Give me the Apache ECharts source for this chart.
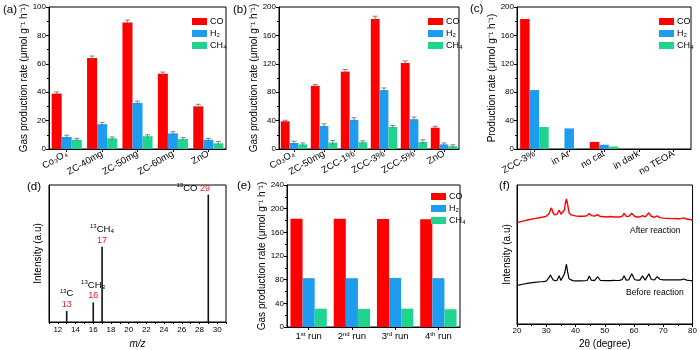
<!DOCTYPE html>
<html>
<head>
<meta charset="utf-8">
<script src="https://cdn.jsdelivr.net/npm/echarts@6/dist/echarts.min.js"></script>
<style>
html, body { margin: 0; padding: 0; background: #fff; }
#main { width: 700px; height: 350px; }
</style>
</head>
<body>
<div id="main"></div>
<script>
// ---- data ----
var gasNames = ['CO', 'H₂', 'CH₄'];
var gasColors = ['#ff0000', '#1e9cf0', '#1fd48c'];

// (a)
var catsA = ['Co₃O₄', 'ZC-40mg', 'ZC-50mg', 'ZC-60mg', 'ZnO'];
var coA = [39, 64, 89, 53, 30];
var h2A = [8.5, 17.5, 32.5, 11, 6.5];
var ch4A = [6.5, 7.5, 9, 7, 4];
var errCoA = [1.2, 1.5, 1.8, 1.2, 1.5];
var errH2A = [1.2, 1.2, 1.2, 1.2, 1.0];
var errCh4A = [1.0, 1.0, 1.0, 1.0, 1.2];

// (b)
var catsB = ['Co₃O₄', 'ZC-50mg', 'ZCC-1%', 'ZCC-3%', 'ZCC-5%', 'ZnO'];
var coB = [39, 89, 109, 183, 121, 30];
var h2B = [8.5, 32.5, 41, 83, 42, 6.5];
var ch4B = [6.5, 9, 9.5, 31, 10, 4];
var errCoB = [1.5, 2, 3, 4, 3, 2];
var errH2B = [2.5, 3, 3, 3, 3, 2];
var errCh4B = [2, 3, 2, 2, 3, 2];

// (c)
var catsC = ['ZCC-3%', 'in Ar', 'no cat', 'in dark', 'no TEOA'];
var coC = [183, 0, 10, 0, 0];
var h2C = [83, 29, 6, 0, 0];
var ch4C = [31, 0, 3.5, 0, 0];

// (d)
var massZ = [13, 16, 17, 29];
var massI = [8, 14.3, 55, 93];
var massIon = ['C', 'CH₃', 'CH₄', 'CO'];

// (e)
var catsE = ['1{sup|st} run', '2{sup|nd} run', '3{sup|rd} run', '4{sup|th} run'];
var coE = [183, 183, 182.5, 182];
var h2E = [82.5, 82.5, 83, 82.5];
var ch4E = [31, 30.5, 31, 30];

// (f)
var xrdAngle = [20, 22, 24, 26, 28, 29, 30, 30.5, 31, 31.4, 31.8, 32.3, 33, 33.7, 34.4, 35, 35.6,
  36.2, 36.5, 36.9, 37.3, 37.8, 38.4, 39, 40, 41, 42, 43, 44, 44.7, 45.4, 46.5, 47.6, 48.5,
  50, 51, 52, 53, 54, 55, 56, 56.6, 57.3, 58.2, 59.2, 60.2, 61, 62, 62.9, 63.8, 64.4, 65.1,
  65.9, 67, 67.9, 68.8, 70, 71, 72, 73, 74, 75, 76, 77, 78, 79, 80];
var xrdAfter = [72.9, 74.0, 75.0, 75.8, 76.6, 77.0, 77.5, 78.0, 79.5, 82.0, 83.5, 80.0, 78.5, 79.0, 82.0, 79.0, 79.0,
  82.0, 86.5, 90.0, 86.0, 80.0, 78.5, 78.0, 77.8, 77.5, 77.6, 77.5, 78.0, 79.6, 78.0, 77.6, 78.6, 77.3,
  77.2, 77.0, 77.3, 77.0, 77.1, 77.0, 77.6, 79.6, 77.5, 77.4, 79.6, 77.5, 77.0, 77.0, 78.0, 77.0, 78.0, 80.0,
  77.5, 76.8, 77.8, 76.5, 76.2, 76.0, 76.0, 75.8, 75.9, 75.7, 75.8, 76.4, 75.5, 75.2, 74.8];
var xrdBefore = [27.8, 28.6, 29.4, 30.0, 30.4, 30.5, 30.8, 31.2, 33.5, 35.3, 35.0, 31.8, 31.2, 31.4, 34.8, 31.3, 31.4,
  36.0, 39.0, 43.0, 37.5, 32.5, 31.6, 31.2, 31.0, 31.1, 31.0, 31.1, 31.3, 34.6, 31.5, 31.2, 34.0, 31.3,
  31.2, 31.3, 31.2, 31.4, 31.3, 31.4, 32.0, 34.8, 31.6, 31.8, 36.2, 32.0, 31.5, 31.6, 34.6, 31.6, 32.0, 36.2,
  32.0, 31.8, 34.1, 32.2, 31.8, 31.7, 31.8, 31.7, 31.8, 31.7, 31.8, 32.4, 31.6, 31.3, 31.0];

// ---- layout ----
var FONT = 'Liberation Sans, Arial, sans-serif';
var grids = [
  { left: 49, top: 7, width: 177, height: 142 },   // a
  { left: 279, top: 7, width: 180, height: 142 },  // b
  { left: 517, top: 7, width: 174, height: 142 },  // c
  { left: 49, top: 185, width: 177, height: 142 }, // d
  { left: 287, top: 185, width: 173, height: 142 },// e
  { left: 517, top: 185, width: 178, height: 142 } // f
];
var gaps = [0.15, 0.12, 0.18, 0, 0.16, 0];
var rateName = 'Gas production rate (μmol g⁻¹ h⁻¹)';

var xAxes = [], yAxes = [], series = [], legends = [];

grids.forEach(function (g) {
  g.show = true;
  g.borderColor = '#000';
  g.borderWidth = 1;
  g.backgroundColor = 'transparent';
});

function valueY(idx, max, interval, name, gap) {
  return {
    gridIndex: idx, type: 'value', min: 0, max: max, interval: interval,
    name: name, nameLocation: 'middle', nameGap: gap,
    nameTextStyle: { fontSize: 10, fontFamily: FONT, color: '#000' },
    axisLine: { show: true, lineStyle: { color: '#000', width: 1 } },
    axisTick: { show: true, length: 3, lineStyle: { color: '#000' } },
    minorTick: { show: true, splitNumber: 2, length: 2, lineStyle: { color: '#000' } },
    axisLabel: { fontSize: 8, fontFamily: FONT, color: '#000', margin: 3 },
    splitLine: { show: false }
  };
}

function catX(idx, cats, rotate, rich) {
  return {
    gridIndex: idx, type: 'category', data: cats,
    axisLine: { show: true, lineStyle: { color: '#000', width: 1 } },
    axisTick: { show: true, alignWithLabel: true, length: 3, lineStyle: { color: '#000' } },
    axisLabel: { fontSize: 9.5, fontFamily: FONT, color: '#000', rotate: rotate, margin: 4, interval: 0, rich: rich || {} },
    splitLine: { show: false }
  };
}

function errorSeries(idx, vals, errs, k, gap) {
  var data = vals.map(function (v, i) { return [i, v, errs[i], k]; });
  return {
    type: 'custom', xAxisIndex: idx, yAxisIndex: idx, z: 5, silent: true,
    data: data,
    encode: { x: 0, y: 1 },
    renderItem: function (params, api) {
      var c = api.coord([api.value(0), api.value(1)]);
      var band = api.size([1, 0])[0];
      var bw = band * (1 - gap) / 3;
      var cx = c[0] + (api.value(3) - 1) * bw;
      var top = api.coord([api.value(0), api.value(1) + api.value(2)])[1];
      var bot = api.coord([api.value(0), api.value(1) - api.value(2)])[1];
      var st = { stroke: '#666', lineWidth: 0.8 };
      return {
        type: 'group',
        children: [
          { type: 'line', shape: { x1: cx, y1: bot, x2: cx, y2: top }, style: st },
          { type: 'line', shape: { x1: cx - 2.5, y1: top, x2: cx + 2.5, y2: top }, style: st }
        ]
      };
    }
  };
}

function barPanel(idx, cats, sets, errs, max, interval, rotate, yName, nameGap, rich) {
  xAxes.push(catX(idx, cats, rotate, rich));
  yAxes.push(valueY(idx, max, interval, yName, nameGap));
  sets.forEach(function (vals, k) {
    series.push({
      name: gasNames[k], type: 'bar', xAxisIndex: idx, yAxisIndex: idx,
      data: vals, itemStyle: { color: gasColors[k] },
      barGap: '0%', barCategoryGap: (gaps[idx] * 100) + '%'
    });
  });
  if (errs) {
    errs.forEach(function (e, k) {
      series.push(errorSeries(idx, sets[k], e, k, gaps[idx]));
    });
  }
}

function legendAt(left, top) {
  legends.push({
    data: gasNames, orient: 'vertical', left: left, top: top,
    icon: 'rect', itemWidth: 15, itemHeight: 7, itemGap: 3,
    selectedMode: false,
    textStyle: { fontSize: 9, fontFamily: FONT, color: '#000', padding: [0, 0, 0, -2] }
  });
}

// (a)
barPanel(0, catsA, [coA, h2A, ch4A], [errCoA, errH2A, errCh4A], 100, 20, 30, rateName, 17);
legendAt(187, 12);
// (b)
barPanel(1, catsB, [coB, h2B, ch4B], [errCoB, errH2B, errCh4B], 200, 40, 30, rateName, 18);
legendAt(423, 12);
// (c)
barPanel(2, catsC, [coC, h2C, ch4C], null, 200, 40, 30, 'Production rate (μmol g⁻¹ h⁻¹)', 19);
legendAt(654, 12);

// (d)
xAxes.push({
  gridIndex: 3, type: 'value', min: 11, max: 31, interval: 1,
  name: 'm/z', nameLocation: 'middle', nameGap: 17,
  nameTextStyle: { fontSize: 10, fontStyle: 'italic', fontFamily: FONT, color: '#000' },
  axisLine: { show: true, lineStyle: { color: '#000' } },
  axisTick: { show: true, length: 2, lineStyle: { color: '#000' } },
  axisLabel: {
    fontSize: 8, fontFamily: FONT, color: '#000', margin: 4,
    formatter: function (v) { return v % 2 === 0 ? String(v) : ''; }
  },
  splitLine: { show: false }
});
yAxes.push({
  gridIndex: 3, type: 'value', min: 0, max: 100,
  name: 'Intensity (a.u)', nameLocation: 'middle', nameGap: 6,
  nameTextStyle: { fontSize: 10, fontFamily: FONT, color: '#000' },
  axisLine: { show: true, lineStyle: { color: '#000' } },
  axisTick: { show: false }, axisLabel: { show: false }, splitLine: { show: false }
});
var massRich = {
  sup: { fontSize: 6, verticalAlign: 'top', fontFamily: FONT, color: '#000', lineHeight: 11 },
  ion: { fontSize: 9.5, fontFamily: FONT, color: '#000', lineHeight: 11 },
  red: { fontSize: 9, fontFamily: FONT, color: '#e8202a', lineHeight: 11 }
};
series.push({
  type: 'bar', xAxisIndex: 3, yAxisIndex: 3, barWidth: 1.6,
  itemStyle: { color: '#111' },
  data: massZ.map(function (z, i) {
    var item = { value: [z, massI[i]] };
    if (z === 29) {
      item.label = {
        show: true, position: 'top', distance: 1, offset: [-15, 0], rich: massRich,
        formatter: '{sup|13}{ion|' + massIon[i] + ' }{red|' + z + '}'
      };
    } else {
      item.label = {
        show: true, position: 'top', distance: 1, rich: massRich,
        formatter: '{sup|13}{ion|' + massIon[i] + '}\n{red|' + z + '}'
      };
    }
    return item;
  })
});

// (e)
barPanel(4, catsE, [coE, h2E, ch4E], null, 240, 40, 0, rateName, 18, {
  sup: { fontSize: 6, verticalAlign: 'top', fontFamily: FONT, color: '#000', lineHeight: 11 }
});
xAxes[4].axisLabel.lineHeight = 11;
legendAt(426, 187);

// (f)
xAxes.push({
  gridIndex: 5, type: 'value', min: 20, max: 80, interval: 10,
  name: '2θ (degree)', nameLocation: 'middle', nameGap: 15,
  nameTextStyle: { fontSize: 10, fontFamily: FONT, color: '#000' },
  axisLine: { show: true, lineStyle: { color: '#000' } },
  axisTick: { show: true, length: 3, lineStyle: { color: '#000' } },
  minorTick: { show: true, splitNumber: 2, length: 2, lineStyle: { color: '#000' } },
  axisLabel: { fontSize: 8, fontFamily: FONT, color: '#000', margin: 3 },
  splitLine: { show: false }
});
yAxes.push({
  gridIndex: 5, type: 'value', min: 0, max: 100,
  name: 'Intensity (a.u)', nameLocation: 'middle', nameGap: 5,
  nameTextStyle: { fontSize: 10, fontFamily: FONT, color: '#000' },
  axisLine: { show: true, lineStyle: { color: '#000' } },
  axisTick: { show: false }, axisLabel: { show: false }, splitLine: { show: false }
});
series.push({
  type: 'line', xAxisIndex: 5, yAxisIndex: 5, showSymbol: false, smooth: false,
  lineStyle: { color: '#ff0000', width: 1.4 },
  data: xrdAngle.map(function (a, i) { return [a, xrdAfter[i]]; })
});
series.push({
  type: 'line', xAxisIndex: 5, yAxisIndex: 5, showSymbol: false, smooth: false,
  lineStyle: { color: '#000', width: 1.2 },
  data: xrdAngle.map(function (a, i) { return [a, xrdBefore[i]]; })
});

// panel letters and notes
function txt(x, y, s, size) {
  return { type: 'text', left: x, top: y, style: { text: s, fontSize: size || 11.5, fontFamily: FONT, fill: '#000' } };
}
var graphics = [
  txt(3, 4, '(a)'), txt(233, 4, '(b)'), txt(470, 3, '(c)'),
  txt(27, 181, '(d)'), txt(237, 180, '(e)'), txt(499, 180, '(f)'),
  txt(630, 226, 'After reaction', 8.5), txt(626, 288, 'Before reaction', 8.5)
];

var chart = echarts.init(document.getElementById('main'), null, { renderer: 'canvas' });
chart.setOption({
  animation: false,
  textStyle: { fontFamily: FONT },
  grid: grids,
  xAxis: xAxes,
  yAxis: yAxes,
  legend: legends,
  series: series,
  graphic: graphics
});
</script>
</body>
</html>
